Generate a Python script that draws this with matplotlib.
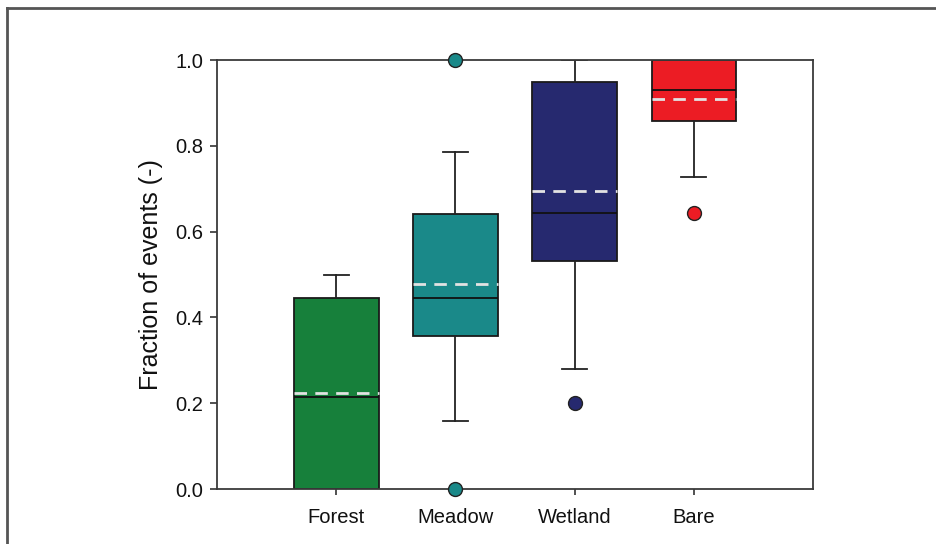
import matplotlib
matplotlib.use("Agg")
import matplotlib.pyplot as plt
from matplotlib.lines import Line2D

plt.rcParams["font.family"] = ["Liberation Sans", "DejaVu Sans"]

categories = ["Forest", "Meadow", "Wetland", "Bare"]
q1 = [0.0, 0.357, 0.532, 0.858]
q3 = [0.446, 0.642, 0.948, 1.0]
medians = [0.215, 0.445, 0.643, 0.929]
means = [0.224, 0.479, 0.695, 0.909]
whislo = [0.0, 0.159, 0.280, 0.728]
whishi = [0.500, 0.786, 1.0, 1.0]
outliers = [[], [0.0, 1.0], [0.200], [0.643]]
colors = ["#17803B", "#1A8989", "#26296F", "#EC1C24"]

stats = []
for i, name in enumerate(categories):
    stats.append({
        "label": name,
        "q1": q1[i], "q3": q3[i], "med": medians[i], "mean": means[i],
        "whislo": whislo[i], "whishi": whishi[i], "fliers": outliers[i],
    })

fig = plt.figure(figsize=(9.37, 5.44), dpi=100)
ax = fig.add_axes([0.2316, 0.1011, 0.6361, 0.7886])

pos = list(range(1, len(categories) + 1))
bp = ax.bxp(
    stats, positions=pos, widths=0.71, capwidths=0.21,
    patch_artist=True, showmeans=True, meanline=True,
    boxprops=dict(edgecolor="#1a1a1a", linewidth=1.3),
    medianprops=dict(color="#111111", linewidth=1.3),
    meanprops=dict(color="#e2e2e2", linewidth=2.0, linestyle=(0, (4.5, 3))),
    whiskerprops=dict(color="#222222", linewidth=1.3),
    capprops=dict(color="#222222", linewidth=1.3),
)
for i, box in enumerate(bp["boxes"]):
    box.set_facecolor(colors[i])
for i, fl in enumerate(bp["fliers"]):
    fl.set(marker="o", markersize=10, markerfacecolor=colors[i],
           markeredgecolor="#222222", markeredgewidth=1.0, clip_on=False, zorder=5)

ax.set_xlim(0, 5)
ax.set_ylim(0, 1.0)
ax.set_yticks([0.0, 0.2, 0.4, 0.6, 0.8, 1.0])
ax.set_yticklabels(["0.0", "0.2", "0.4", "0.6", "0.8", "1.0"])
ax.set_xticks(pos)
ax.set_xticklabels(categories)
ax.tick_params(axis="y", direction="out", length=5, width=1.2, pad=5,
               labelsize=14.5, colors="#333333", labelcolor="#111111")
ax.tick_params(axis="x", direction="out", length=4.5, width=1.2, pad=9,
               labelsize=14.5, colors="#333333", labelcolor="#111111")
ax.set_ylabel("Fraction of events (-)", fontsize=18, labelpad=9, color="#111111")
for s in ax.spines.values():
    s.set_color("#3a3a3a")
    s.set_linewidth(1.3)

# frame around the figure (only top and left edges visible)
fig.add_artist(Line2D([7 / 937, 1.0], [1 - 8 / 544, 1 - 8 / 544],
                      transform=fig.transFigure, color="#555555", linewidth=2))
fig.add_artist(Line2D([7 / 937, 7 / 937], [0.0, 1 - 8 / 544],
                      transform=fig.transFigure, color="#555555", linewidth=2))

fig.savefig("out.png", dpi=100)
